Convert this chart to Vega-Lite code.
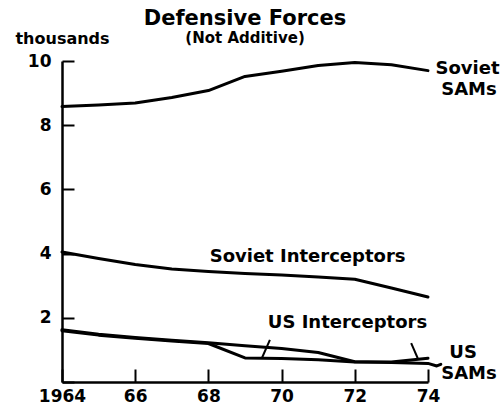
{
  "$schema": "https://vega.github.io/schema/vega-lite/v6.json",
  "autosize": {"type": "none"},
  "width": 366,
  "height": 321,
  "padding": {"left": 62, "top": 61, "right": 75, "bottom": 26},
  "background": "white",
  "title": {
    "text": "Defensive Forces",
    "subtitle": "(Not Additive)",
    "anchor": "middle",
    "font": "DejaVu Sans",
    "fontSize": 21,
    "fontWeight": "bold",
    "color": "black",
    "subtitleFont": "DejaVu Sans",
    "subtitleFontSize": 15,
    "subtitleFontWeight": "bold",
    "subtitleColor": "black",
    "subtitlePadding": 2,
    "offset": -16
  },
  "config": {
    "view": {"stroke": null},
    "axis": {"grid": false, "domainColor": "black", "tickColor": "black", "labelColor": "black", "titleColor": "black"}
  },
  "datasets": {
    "series": [
      {"series": "Soviet SAMs", "year": 1964, "value": 8.58},
      {"series": "Soviet SAMs", "year": 1965, "value": 8.63},
      {"series": "Soviet SAMs", "year": 1966, "value": 8.69},
      {"series": "Soviet SAMs", "year": 1967, "value": 8.86},
      {"series": "Soviet SAMs", "year": 1968, "value": 9.08},
      {"series": "Soviet SAMs", "year": 1969, "value": 9.52},
      {"series": "Soviet SAMs", "year": 1970, "value": 9.68},
      {"series": "Soviet SAMs", "year": 1971, "value": 9.86},
      {"series": "Soviet SAMs", "year": 1972, "value": 9.95},
      {"series": "Soviet SAMs", "year": 1973, "value": 9.88},
      {"series": "Soviet SAMs", "year": 1974, "value": 9.7},
      {"series": "Soviet Interceptors", "year": 1964, "value": 4.05},
      {"series": "Soviet Interceptors", "year": 1965, "value": 3.85},
      {"series": "Soviet Interceptors", "year": 1966, "value": 3.66},
      {"series": "Soviet Interceptors", "year": 1967, "value": 3.52},
      {"series": "Soviet Interceptors", "year": 1968, "value": 3.44},
      {"series": "Soviet Interceptors", "year": 1969, "value": 3.38},
      {"series": "Soviet Interceptors", "year": 1970, "value": 3.33},
      {"series": "Soviet Interceptors", "year": 1971, "value": 3.27},
      {"series": "Soviet Interceptors", "year": 1972, "value": 3.2},
      {"series": "Soviet Interceptors", "year": 1973, "value": 2.93},
      {"series": "Soviet Interceptors", "year": 1974, "value": 2.65},
      {"series": "US Interceptors", "year": 1964, "value": 1.6},
      {"series": "US Interceptors", "year": 1965, "value": 1.46},
      {"series": "US Interceptors", "year": 1966, "value": 1.36},
      {"series": "US Interceptors", "year": 1967, "value": 1.28},
      {"series": "US Interceptors", "year": 1968, "value": 1.2},
      {"series": "US Interceptors", "year": 1969, "value": 0.75},
      {"series": "US Interceptors", "year": 1970, "value": 0.73},
      {"series": "US Interceptors", "year": 1971, "value": 0.69},
      {"series": "US Interceptors", "year": 1972, "value": 0.62},
      {"series": "US Interceptors", "year": 1973, "value": 0.62},
      {"series": "US Interceptors", "year": 1974, "value": 0.74},
      {"series": "US SAMs", "year": 1964, "value": 1.63},
      {"series": "US SAMs", "year": 1965, "value": 1.49},
      {"series": "US SAMs", "year": 1966, "value": 1.39},
      {"series": "US SAMs", "year": 1967, "value": 1.3},
      {"series": "US SAMs", "year": 1968, "value": 1.22},
      {"series": "US SAMs", "year": 1969, "value": 1.13},
      {"series": "US SAMs", "year": 1970, "value": 1.04},
      {"series": "US SAMs", "year": 1971, "value": 0.92},
      {"series": "US SAMs", "year": 1972, "value": 0.63},
      {"series": "US SAMs", "year": 1973, "value": 0.61},
      {"series": "US SAMs", "year": 1974, "value": 0.58},
      {"series": "US SAMs", "year": 1974.24, "value": 0.5},
      {"series": "US SAMs", "year": 1974.35, "value": 0.55}
    ],
    "leaders": [
      {"seg": "a", "year": 1969.68, "value": 1.31},
      {"seg": "a", "year": 1969.46, "value": 0.74},
      {"seg": "b", "year": 1973.54, "value": 1.21},
      {"seg": "b", "year": 1973.72, "value": 0.74}
    ],
    "labels": [
      {"label": "Soviet", "year": 1975.08, "value": 9.6},
      {"label": "SAMs", "year": 1975.12, "value": 8.95},
      {"label": "Soviet Interceptors", "year": 1970.71, "value": 3.75},
      {"label": "US Interceptors", "year": 1971.8, "value": 1.67},
      {"label": "US", "year": 1974.96, "value": 0.75},
      {"label": "SAMs", "year": 1975.12, "value": 0.09}
    ]
  },
  "layer": [
    {
      "data": {"name": "series"},
      "mark": {"type": "line", "color": "black", "strokeWidth": 3, "strokeJoin": "round", "strokeCap": "round", "clip": false},
      "encoding": {
        "x": {
          "field": "year", "type": "quantitative",
          "scale": {"domain": [1964, 1974], "nice": false, "zero": false},
          "axis": {
            "title": null,
            "values": [1964, 1965, 1966, 1967, 1968, 1969, 1970, 1971, 1972, 1973, 1974],
            "tickSize": -13,
            "tickWidth": 2,
            "domainWidth": 2.5,
            "labelPadding": 19,
            "labelFont": "DejaVu Sans",
            "labelFontSize": 17,
            "labelFontWeight": "bold",
            "labelFlush": false,
            "labelOverlap": false,
            "labelExpr": "datum.value % 2 == 0 ? (datum.value == 1964 ? '1964' : substring(toString(datum.value), 2, 4)) : ''"
          }
        },
        "y": {
          "field": "value", "type": "quantitative",
          "scale": {"domain": [0, 10], "nice": false},
          "axis": {
            "title": "thousands",
            "titleAngle": 0,
            "titleX": 0,
            "titleY": -18,
            "titleAlign": "center",
            "titleBaseline": "alphabetic",
            "titleFont": "DejaVu Sans",
            "titleFontSize": 16,
            "titleFontWeight": "bold",
            "values": [0, 1, 2, 3, 4, 5, 6, 7, 8, 9, 10],
            "tickSize": -12,
            "tickWidth": 2,
            "domainWidth": 2.5,
            "labelPadding": 23,
            "labelFont": "DejaVu Sans",
            "labelFontSize": 17,
            "labelFontWeight": "bold",
            "labelOverlap": false,
            "labelFlush": false,
            "labelExpr": "datum.value > 0 && datum.value % 2 == 0 ? datum.label : ''"
          }
        },
        "detail": {"field": "series"}
      }
    },
    {
      "data": {"name": "leaders"},
      "mark": {"type": "line", "color": "black", "strokeWidth": 2, "clip": false},
      "encoding": {
        "x": {"field": "year", "type": "quantitative"},
        "y": {"field": "value", "type": "quantitative"},
        "detail": {"field": "seg"}
      }
    },
    {
      "data": {"name": "labels"},
      "mark": {"type": "text", "font": "DejaVu Sans", "fontSize": 18, "fontWeight": "bold", "color": "black", "align": "center", "baseline": "alphabetic", "clip": false},
      "encoding": {
        "x": {"field": "year", "type": "quantitative"},
        "y": {"field": "value", "type": "quantitative"},
        "text": {"field": "label"}
      }
    }
  ]
}
